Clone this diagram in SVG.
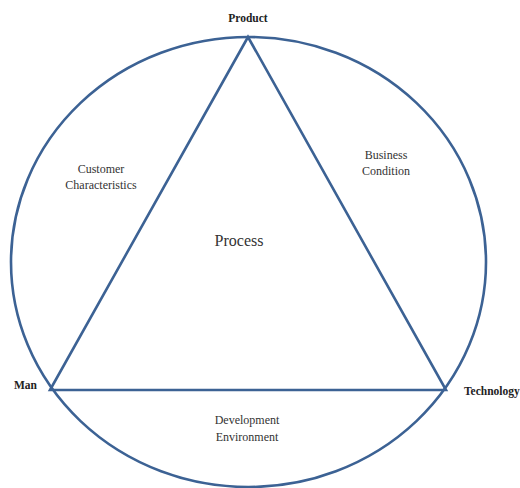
<svg xmlns="http://www.w3.org/2000/svg" width="520" height="488" viewBox="0 0 520 488">
<style>
.ln{fill:none;stroke:#3c6294;stroke-width:2.6;stroke-linejoin:miter}
text{font-family:"Liberation Serif","Times New Roman",serif;fill:#333}
.b{font-weight:bold;font-size:11.5px;fill:#222}
.s{font-size:12px;text-anchor:middle}
.p{font-size:16px;text-anchor:middle}
</style>
<rect width="520" height="488" fill="#fff"/>
<g id="connectors">
<ellipse class="ln" cx="248.5" cy="262" rx="237.5" ry="225"/>
<polygon class="ln" points="248,37 50,390 446,390"/>
</g>
<g id="product"><text class="b" x="248" y="22" text-anchor="middle">Product</text></g>
<g id="man"><text class="b" x="14" y="389">Man</text></g>
<g id="technology"><text class="b" x="464" y="395">Technology</text></g>
<g id="customer"><text class="s" x="101" y="173">Customer</text><text class="s" x="101" y="189">Characteristics</text></g>
<g id="business"><text class="s" x="386" y="159">Business</text><text class="s" x="386" y="175">Condition</text></g>
<g id="process"><text class="p" x="239" y="246">Process</text></g>
<g id="development"><text class="s" x="247" y="424">Development</text><text class="s" x="247" y="441">Environment</text></g>
</svg>
